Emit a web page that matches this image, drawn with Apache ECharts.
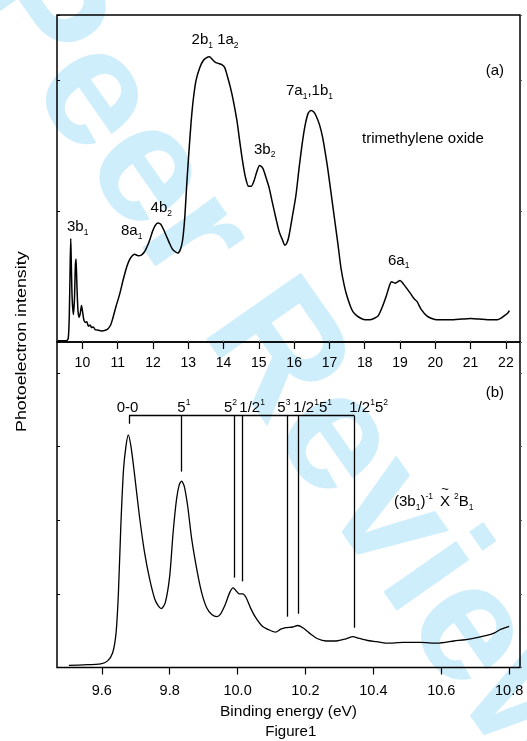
<!DOCTYPE html>
<html><head><meta charset="utf-8">
<script src="https://cdn.jsdelivr.net/npm/echarts@6/dist/echarts.min.js"></script>
<style>html,body{margin:0;padding:0;background:#fff}#c{width:527px;height:741px}</style>
</head><body><div id="c"></div>
<script>
// ---- Panel (a): full valence spectrum ----
const topEnergy = [9.30,9.55,9.60,9.63,9.655,9.67,9.685,9.71,9.745,9.775,9.80,9.82,9.84,9.87,9.90,9.94,9.975,10.0,10.04,10.08,10.125,10.17,10.22,10.26,10.31,10.36,10.45,10.55,10.65,10.72,10.8,10.86,10.95,11.05,11.15,11.24,11.32,11.40,11.48,11.58,11.67,11.76,11.85,11.92,11.98,12.06,12.14,12.22,12.30,12.38,12.46,12.55,12.63,12.70,12.78,12.84,12.90,12.96,13.02,13.08,13.14,13.22,13.33,13.42,13.50,13.60,13.68,13.76,13.85,13.95,14.03,14.10,14.19,14.28,14.38,14.46,14.54,14.62,14.71,14.78,14.86,14.94,15.02,15.11,15.20,15.29,15.38,15.48,15.58,15.67,15.74,15.80,15.86,15.95,16.05,16.14,16.24,16.32,16.40,16.48,16.55,16.62,16.72,16.81,16.88,16.95,17.05,17.14,17.24,17.33,17.43,17.52,17.60,17.67,17.78,17.90,18.02,18.14,18.26,18.38,18.50,18.62,18.70,18.76,18.86,18.93,19.00,19.08,19.19,19.30,19.40,19.48,19.60,19.76,19.90,20.05,20.30,20.52,20.75,21.00,21.25,21.48,21.76,21.85,21.95,22.05,22.10];
const topIntensity = [0.01,0.01,0.03,0.22,0.62,0.79,0.60,0.33,0.21,0.33,0.58,0.635,0.47,0.26,0.19,0.22,0.28,0.24,0.17,0.15,0.155,0.12,0.13,0.11,0.115,0.095,0.09,0.085,0.09,0.10,0.13,0.18,0.27,0.36,0.47,0.56,0.62,0.655,0.67,0.66,0.665,0.69,0.74,0.79,0.84,0.89,0.91,0.90,0.86,0.81,0.76,0.71,0.69,0.68,0.71,0.78,0.95,1.22,1.46,1.68,1.85,2.00,2.10,2.15,2.17,2.18,2.16,2.14,2.13,2.12,2.10,2.04,1.95,1.84,1.69,1.53,1.38,1.26,1.19,1.19,1.23,1.30,1.35,1.33,1.26,1.18,1.07,0.95,0.84,0.78,0.74,0.76,0.82,0.96,1.12,1.33,1.54,1.67,1.75,1.77,1.76,1.73,1.66,1.56,1.45,1.33,1.13,0.95,0.75,0.56,0.42,0.33,0.27,0.23,0.20,0.18,0.17,0.17,0.18,0.20,0.27,0.36,0.43,0.46,0.45,0.46,0.47,0.45,0.41,0.37,0.33,0.31,0.25,0.20,0.18,0.17,0.17,0.17,0.175,0.18,0.175,0.17,0.17,0.18,0.20,0.22,0.24];
const topTicks = [10,11,12,13,14,15,16,17,18,19,20,21,22];

// ---- Panel (b): 3b1 band, vibrational structure ----
const botEnergy = [9.503,9.547,9.597,9.617,9.632,9.642,9.649,9.656,9.664,9.671,9.678,9.686,9.696,9.711,9.726,9.741,9.756,9.766,9.775,9.787,9.800,9.810,9.820,9.828,9.835,9.843,9.853,9.865,9.880,9.894,9.909,9.924,9.939,9.949,9.964,9.977,9.987,9.996,10.005,10.015,10.025,10.038,10.053,10.073,10.093,10.112,10.127,10.142,10.162,10.177,10.192,10.211,10.236,10.261,10.291,10.320,10.340,10.355,10.380,10.410,10.439,10.489,10.539,10.588,10.638,10.687,10.737,10.757,10.776,10.800];
const botIntensity = [0.03,0.036,0.05,0.09,0.20,0.47,1.02,1.92,2.69,3.00,3.16,3.00,2.64,2.05,1.56,1.20,0.93,0.84,0.80,0.88,1.24,1.83,2.28,2.48,2.53,2.46,2.19,1.74,1.33,1.02,0.81,0.72,0.69,0.72,0.86,1.02,1.08,1.04,1.00,1.00,0.95,0.81,0.68,0.56,0.51,0.48,0.52,0.54,0.55,0.57,0.54,0.47,0.39,0.36,0.36,0.39,0.42,0.40,0.37,0.35,0.33,0.34,0.34,0.33,0.36,0.39,0.44,0.47,0.52,0.56];
const botTicks = [9.6,9.8,10.0,10.2,10.4,10.6,10.8];

// vibrational assignment comb
const bandPositions = [9.680,9.833,9.990,10.014,10.147,10.180,10.344];
const bandBottoms = [3.31,2.66,1.22,1.17,0.69,0.73,0.54];
const bracketLevel = 3.42;

const FF = '"Liberation Sans", Arial, Helvetica, sans-serif';
const zip = (a,b) => a.map((v,i) => [v, b[i]]);

const markLines = [[{coord:[bandPositions[0],bracketLevel]},{coord:[bandPositions[bandPositions.length-1],bracketLevel]}]];
bandPositions.forEach((x,i) => markLines.push([{coord:[x,bracketLevel]},{coord:[x,bandBottoms[i]]}]));

const RICH = {
  sub: {fontSize: 8.5, lineHeight: 9, verticalAlign: 'bottom', padding: [0,0,2,0], fontFamily: FF, fill: '#000'},
  sup: {fontSize: 8.5, lineHeight: 9, verticalAlign: 'top', padding: [2.5,0,0,0], fontFamily: FF, fill: '#000'}
};
function T(x, y, text, extra) {
  return Object.assign({
    type: 'text', x: x, y: y, z: 10, silent: true,
    style: {text: text, fontSize: 15, lineHeight: 24, fontFamily: FF, fill: '#000',
      textAlign: 'left', textVerticalAlign: 'middle', rich: RICH}
  }, extra || {});
}

const chart = echarts.init(document.getElementById('c'), null, {renderer: 'canvas'});
const axisFont = {fontFamily: FF, color: '#000'};
chart.setOption({
  animation: false,
  backgroundColor: '#fff',
  grid: [
    {left: 57, right: 7, top: 15, height: 327, show: true, borderColor: '#000', borderWidth: 1.5, containLabel: false},
    {left: 57, right: 7, top: 342, height: 325.5, show: true, borderColor: '#000', borderWidth: 1.5, containLabel: false}
  ],
  xAxis: [
    {gridIndex: 0, type: 'value', min: 9.28, max: 22.4, position: 'bottom',
      axisLine: {show: false}, splitLine: {show: false},
      axisTick: {show: true, inside: false, length: 7, lineStyle: {color: '#000', width: 1.2}, customValues: topTicks},
      axisLabel: Object.assign({customValues: topTicks, margin: 14, fontSize: 14}, axisFont)},
    {gridIndex: 0, type: 'value', min: 9.28, max: 22.4, position: 'top',
      axisLine: {show: false}, splitLine: {show: false},
      axisTick: {show: true, inside: false, length: 2, lineStyle: {color: '#999', width: 1}, customValues: topTicks},
      axisLabel: {show: false}},
    {gridIndex: 1, type: 'value', min: 9.468, max: 10.832, position: 'bottom',
      axisLine: {show: false}, splitLine: {show: false},
      axisTick: {show: true, inside: false, length: 7, lineStyle: {color: '#000', width: 1.2}, customValues: botTicks},
      axisLabel: Object.assign({customValues: botTicks, margin: 15.5, fontSize: 14.5, formatter: v => Number(v).toFixed(1)}, axisFont)}
  ],
  yAxis: [
    {gridIndex: 0, type: 'value', min: 0, max: 2.5, interval: 1, position: 'left',
      axisLine: {show: false}, splitLine: {show: false}, axisLabel: {show: false},
      axisTick: {show: true, inside: true, length: 3, lineStyle: {color: '#000', width: 1}}},
    {gridIndex: 0, type: 'value', min: 0, max: 2.5, interval: 1, position: 'right',
      axisLine: {show: false}, splitLine: {show: false}, axisLabel: {show: false},
      axisTick: {show: true, inside: false, length: 2, lineStyle: {color: '#555', width: 1}}},
    {gridIndex: 1, type: 'value', min: 0, max: 4.42, interval: 1, position: 'left',
      axisLine: {show: false}, splitLine: {show: false}, axisLabel: {show: false},
      axisTick: {show: true, inside: true, length: 3, lineStyle: {color: '#000', width: 1}}},
    {gridIndex: 1, type: 'value', min: 0, max: 4.42, interval: 1, position: 'right',
      axisLine: {show: false}, splitLine: {show: false}, axisLabel: {show: false},
      axisTick: {show: true, inside: false, length: 2, lineStyle: {color: '#555', width: 1}}}
  ],
  series: [
    {type: 'line', xAxisIndex: 0, yAxisIndex: 0, data: zip(topEnergy, topIntensity),
      showSymbol: false, smooth: 0.25, z: 5,
      lineStyle: {color: '#000', width: 1.5}},
    {type: 'line', xAxisIndex: 2, yAxisIndex: 2, data: zip(botEnergy, botIntensity),
      showSymbol: false, smooth: 0.25, z: 5,
      lineStyle: {color: '#000', width: 1.3},
      markLine: {silent: true, symbol: ['none','none'], label: {show: false},
        lineStyle: {color: '#000', width: 1.3, type: 'solid'}, data: markLines}}
  ],
  graphic: [
    {type: 'text', x: 286, y: 372, rotation: -55 * Math.PI / 180, z: -100, silent: true,
      style: {text: 'Peer Review', fontSize: 168, fontWeight: 'bold', fontFamily: FF, fill: '#cfeefc',
        textAlign: 'center', textVerticalAlign: 'middle'}},
    // panel (a) labels
    T(67, 227, '3b{sub|1}'),
    T(121, 231, '8a{sub|1}'),
    T(150.6, 208, '4b{sub|2}'),
    T(191.6, 40.3, '2b{sub|1} 1a{sub|2}'),
    T(254, 149.6, '3b{sub|2}'),
    T(286, 90.8, '7a{sub|1},1b{sub|1}'),
    T(388, 260.5, '6a{sub|1}'),
    T(485.7, 70.6, '(a)'),
    T(362, 138.5, 'trimethylene oxide'),
    // panel (b) labels
    T(485.7, 393.3, '(b)'),
    T(116.7, 407.8, '0-0'),
    T(177.3, 407.8, '5{sup|1}'),
    T(224, 407.8, '5{sup|2}'),
    T(239.3, 407.8, '1/2{sup|1}'),
    T(277.3, 407.8, '5{sup|3}'),
    T(293.3, 407.8, '1/2{sup|1}5{sup|1}'),
    T(349.3, 407.8, '1/2{sup|1}5{sup|2}'),
    T(394, 502, '(3b{sub|1}){sup|-1}'),
    T(440, 502, 'X'),
    T(454, 502, '{sup|2}B{sub|1}'),
    {type: 'text', x: 445, y: 489, z: 10, silent: true,
      style: {text: '~', fontSize: 13, fontFamily: FF, fill: '#000', textAlign: 'center', textVerticalAlign: 'middle'}},
    // axis titles
    {type: 'text', x: 288.5, y: 711.7, z: 10, silent: true,
      style: {text: 'Binding energy (eV)', fontSize: 15.5, fontFamily: FF, fill: '#000', textAlign: 'center', textVerticalAlign: 'middle'}},
    {type: 'text', x: 290.8, y: 731.7, z: 10, silent: true,
      style: {text: 'Figure1', fontSize: 15, fontFamily: FF, fill: '#000', textAlign: 'center', textVerticalAlign: 'middle'}},
    {type: 'text', x: 21.5, y: 341.7, rotation: Math.PI / 2, scaleX: 1.19, z: 10, silent: true,
      style: {text: 'Photoelectron intensity', fontSize: 15, fontFamily: FF, fill: '#000', textAlign: 'center', textVerticalAlign: 'middle'}}
  ]
});
</script></body></html>
